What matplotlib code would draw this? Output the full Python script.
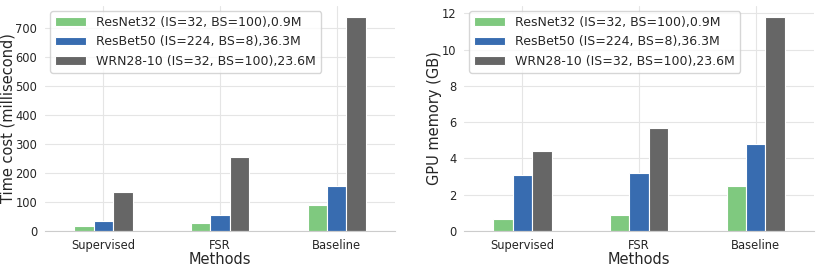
import numpy as np
import pandas as pd
import matplotlib
matplotlib.use("Agg")
import matplotlib.pyplot as plt
import seaborn as sns

methods = ["Supervised", "FSR", "Baseline"]
series_names = ["ResNet32 (IS=32, BS=100),0.9M",
                "ResBet50 (IS=224, BS=8),36.3M",
                "WRN28-10 (IS=32, BS=100),23.6M"]

# time cost per method (millisecond)
time_resnet32 = [16, 28, 88]
time_resnet50 = [36, 54, 155]
time_wrn = [135, 254, 738]

# gpu memory per method (GB)
mem_resnet32 = [0.65, 0.88, 2.48]
mem_resnet50 = [3.1, 3.2, 4.82]
mem_wrn = [4.4, 5.7, 11.8]

sns.set_style("whitegrid")
plt.rcParams['font.family'] = ['DejaVu Sans']

colors = ["#7fc97f", "#386cb0", "#666666"]

timeDf = pd.DataFrame({series_names[0]: time_resnet32,
                       series_names[1]: time_resnet50,
                       series_names[2]: time_wrn}, index=methods)
memDf = pd.DataFrame({series_names[0]: mem_resnet32,
                      series_names[1]: mem_resnet50,
                      series_names[2]: mem_wrn}, index=methods)

fig = plt.figure(figsize=(8.22, 2.69), dpi=100)
ax1 = fig.add_axes([45 / 822, 38 / 269, 350 / 822, 225 / 269])
ax2 = fig.add_axes([464 / 822, 38 / 269, 350 / 822, 225 / 269])

for ax, df, ylabel in [(ax1, timeDf, "Time cost (millisecond)"),
                       (ax2, memDf, "GPU memory (GB)")]:
    df.plot.bar(ax=ax, color=colors, rot=0, edgecolor="white", linewidth=0.8)
    ax.set_xlabel("Methods", fontsize=10.5, labelpad=0)
    ax.set_ylabel(ylabel, fontsize=10.5, labelpad=0)
    ax.tick_params(axis="both", labelsize=8.3, pad=2)
    ax.grid(True, color="#e5e5e5", linewidth=0.8)
    ax.set_axisbelow(True)
    for s in ["left", "top", "right"]:
        ax.spines[s].set_visible(False)
    ax.spines["bottom"].set_color("#cccccc")
    ax.legend(loc="upper left", fontsize=9, frameon=True, framealpha=0.8,
              borderaxespad=0.4, handlelength=2.5)

ax1.set_ylim(0, 775)
ax1.set_yticks(np.arange(0, 701, 100))
ax2.set_ylim(0, 12.4)
ax2.set_yticks(np.arange(0, 13, 2))

fig.savefig("out.png", dpi=100)
